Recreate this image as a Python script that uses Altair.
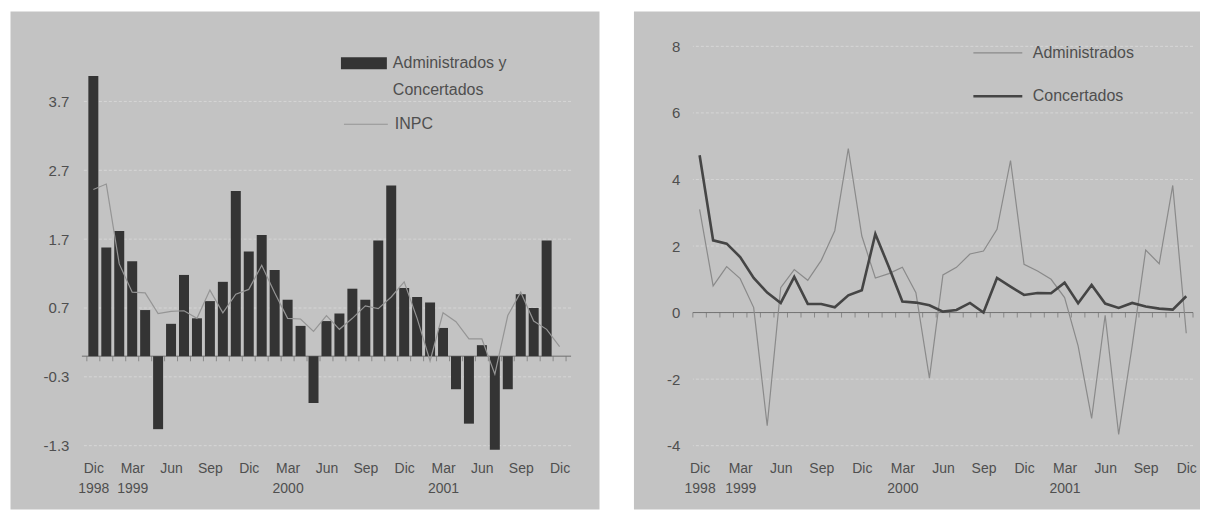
import json
import altair as alt
import pandas as pd

# ---------------- data ----------------
periodos = ["Dic 1998", "Ene 1999", "Feb 1999", "Mar 1999", "Abr 1999", "May 1999",
            "Jun 1999", "Jul 1999", "Ago 1999", "Sep 1999", "Oct 1999", "Nov 1999",
            "Dic 1999", "Ene 2000", "Feb 2000", "Mar 2000", "Abr 2000", "May 2000",
            "Jun 2000", "Jul 2000", "Ago 2000", "Sep 2000", "Oct 2000", "Nov 2000",
            "Dic 2000", "Ene 2001", "Feb 2001", "Mar 2001", "Abr 2001", "May 2001",
            "Jun 2001", "Jul 2001", "Ago 2001", "Sep 2001", "Oct 2001", "Nov 2001",
            "Dic 2001"]

adm_conc = [4.07, 1.58, 1.82, 1.38, 0.67, -1.06, 0.47, 1.18, 0.55, 0.80, 1.08, 2.40,
            1.52, 1.76, 1.25, 0.82, 0.44, -0.68, 0.51, 0.62, 0.98, 0.82, 1.68, 2.48,
            0.99, 0.86, 0.78, 0.41, -0.48, -0.98, 0.16, -1.36, -0.48, 0.90, 0.70, 1.68,
            None]

inpc = [2.42, 2.50, 1.34, 0.93, 0.92, 0.62, 0.65, 0.66, 0.55, 0.96, 0.63, 0.90,
        0.97, 1.32, 0.92, 0.55, 0.54, 0.36, 0.59, 0.39, 0.55, 0.73, 0.69, 0.86,
        1.08, 0.55, -0.07, 0.63, 0.50, 0.25, 0.25, -0.26, 0.59, 0.93, 0.51, 0.39,
        0.14]

administrados = [3.10, 0.80, 1.38, 1.02, 0.15, -3.40, 0.75, 1.29, 0.97, 1.57, 2.46, 4.93,
                 2.30, 1.04, 1.17, 1.36, 0.60, -1.97, 1.13, 1.36, 1.76, 1.85, 2.50, 4.57,
                 1.45, 1.25, 1.00, 0.45, -1.00, -3.18, -0.08, -3.66, -1.00, 1.88, 1.47, 3.82,
                 -0.62]

concertados = [4.73, 2.17, 2.07, 1.67, 1.04, 0.60, 0.29, 1.07, 0.26, 0.26, 0.16, 0.52,
               0.67, 2.36, 1.37, 0.33, 0.30, 0.22, 0.03, 0.08, 0.29, 0.00, 1.04, 0.78,
               0.53, 0.59, 0.58, 0.90, 0.28, 0.83, 0.27, 0.14, 0.29, 0.18, 0.12, 0.09,
               0.49]

tick_idx = [0, 3, 6, 9, 12, 15, 18, 21, 24, 27, 30, 33, 36]
tick_lbl = [["Dic", "1998"], ["Mar", "1999"], ["Jun"], ["Sep"], ["Dic"],
            ["Mar", "2000"], ["Jun"], ["Sep"], ["Dic"],
            ["Mar", "2001"], ["Jun"], ["Sep"], ["Dic"]]

y_izq = [-1.3, -0.3, 0.7, 1.7, 2.7, 3.7]
y_der = [-4, -2, 0, 2, 4, 6, 8]

serie_barras = "Administrados y Concertados"
leyenda_barras = ["Administrados y", "Concertados"]
serie_linea = "INPC"
series_der = ["Administrados", "Concertados"]

n = len(periodos)
assert all(len(s) == n for s in (adm_conc, inpc, administrados, concertados))

# ---------------- styles ----------------
FONT = "Liberation Sans"
BG = "#c3c3c3"
TXT = "#4f4f4f"
GRID = "#d6d6d6"
AXIS = "#707070"
H = 400
W1 = 490
W2 = 501
OFF2 = 610.5   # horizontal offset of the right plot from the left plot origin

one = pd.DataFrame({"k": [0]})
df_bar = pd.DataFrame({"i": list(range(n)), "periodo": periodos,
                       "valor": adm_conc, "serie_b": serie_barras})
df_inpc = pd.DataFrame({"i": list(range(n)), "periodo": periodos,
                        "valor": inpc, "serie_l": serie_linea})
df_ticks = pd.DataFrame({"i": [k - 0.5 for k in range(n + 1)], "valor": 0.0})
df_zero = pd.DataFrame({"valor": [0.0]})

rows = []
for s, vals in zip(series_der, [administrados, concertados]):
    for k, v in enumerate(vals):
        rows.append({"i": k, "periodo": periodos[k], "serie": s, "valor": v})
df_der = pd.DataFrame(rows)

label_expr_x = json.dumps(tick_lbl) + "[round(datum.value/3)]"

x_axis = alt.Axis(values=tick_idx, labelExpr=label_expr_x, title=None, domain=False,
                  ticks=False, tickSize=0, grid=False, labelPadding=16,
                  labelLineHeight=20, labelBaseline="top", labelAngle=0,
                  labelFontSize=14, labelColor=TXT, labelFont=FONT, labelFlush=False,
                  zindex=1)


def y_axis(vals):
    return alt.Axis(values=vals, labelExpr="'' + datum.value", title=None, domain=False,
                    ticks=False, tickSize=0, grid=False, labelPadding=13,
                    labelFontSize=15, labelColor=TXT, labelFont=FONT, zindex=1)


# ---------------- left panel ----------------
X1 = alt.X("i:Q", scale=alt.Scale(domain=[-0.5, 36.5], nice=False), axis=x_axis)
Y1 = alt.Y("valor:Q", scale=alt.Scale(domain=[-1.3, 4.5], nice=False), axis=y_axis(y_izq))

bg1 = alt.Chart(one).mark_rect(color=BG).encode(
    x=alt.value(-71.5), x2=alt.value(W1 + 28.5), y=alt.value(-35), y2=alt.value(H + 64))
grid1 = alt.Chart(pd.DataFrame({"valor": y_izq})).mark_rule(
    color=GRID, strokeWidth=1, strokeDash=[3, 2]).encode(y=Y1)
zero1 = alt.Chart(df_zero).mark_rule(color=AXIS, strokeWidth=1).encode(y=Y1)
ticks1 = alt.Chart(df_ticks).mark_tick(orient="vertical", size=5, thickness=1,
                                       color=AXIS, yOffset=2.5).encode(x=X1, y=Y1)
bars = alt.Chart(df_bar).mark_bar(size=10).encode(
    x=X1, y=Y1, y2=alt.datum(0),
    fill=alt.Fill("serie_b:N", scale=alt.Scale(range=["#343434"]),
                  legend=alt.Legend(title=None, orient="none", legendX=259.5, legendY=-6,
                                    symbolType="M-1,-0.26H1V0.26H-1Z", symbolSize=2116,
                                    symbolStrokeWidth=0, labelOffset=6, padding=0,
                                    labelExpr=json.dumps(leyenda_barras),
                                    labelFontSize=16, labelColor=TXT, labelFont=FONT,
                                    labelLimit=300)))
line_inpc = alt.Chart(df_inpc).mark_line(strokeWidth=1.2).encode(
    x=X1, y=Y1,
    stroke=alt.Stroke("serie_l:N", scale=alt.Scale(range=["#959595"]),
                      legend=alt.Legend(title=None, orient="none", legendX=261.5, legendY=55,
                                        symbolType="stroke", symbolSize=1936,
                                        symbolStrokeWidth=1.2, labelOffset=6, padding=0,
                                        labelFontSize=16, labelColor=TXT, labelFont=FONT)))

left = alt.layer(bg1, grid1, zero1, ticks1, bars, line_inpc).properties(width=W1, height=H)

# ---------------- right panel ----------------
X2 = alt.X("i:Q", scale=alt.Scale(domain=[-0.5, 36.5], nice=False), axis=x_axis)
Y2 = alt.Y("valor:Q", scale=alt.Scale(domain=[-4, 8], nice=False), axis=y_axis(y_der))

leg2 = alt.Legend(title=None, orient="none", legendX=281 + OFF2, legendY=-19,
                  symbolType="stroke", symbolSize=2401, rowPadding=9, labelOffset=9,
                  padding=0, labelFontSize=16, labelColor=TXT, labelFont=FONT)

bg2 = alt.Chart(one).mark_rect(color=BG).encode(
    x=alt.value(-59), x2=alt.value(W2 + 7), y=alt.value(-35), y2=alt.value(H + 64))
grid2 = alt.Chart(pd.DataFrame({"valor": y_der})).mark_rule(
    color=GRID, strokeWidth=1, strokeDash=[3, 2]).encode(y=Y2)
zero2 = alt.Chart(df_zero).mark_rule(color=AXIS, strokeWidth=1).encode(y=Y2)
ticks2 = alt.Chart(df_ticks).mark_tick(orient="vertical", size=5, thickness=1,
                                       color=AXIS, yOffset=2.5).encode(x=X2, y=Y2)
lines2 = alt.Chart(df_der).mark_line().encode(
    x=X2, y=Y2,
    color=alt.Color("serie:N", scale=alt.Scale(domain=series_der, range=["#8a8a8a", "#454545"]),
                    legend=leg2),
    strokeWidth=alt.StrokeWidth("serie:N", scale=alt.Scale(domain=series_der, range=[1.2, 2.6]),
                                legend=leg2),
)

right = alt.layer(bg2, grid2, zero2, ticks2, lines2).properties(width=W2, height=H)

chart = alt.hconcat(left, right, spacing=33).properties(
    padding={"left": 2, "top": 2, "right": 0, "bottom": 0},
    background="white",
).configure_view(strokeWidth=0).configure(
    font=FONT, style={"guide-label": {"lineHeight": 27}}
)

chart.save("out.html", embed_options={"renderer": "svg", "actions": False})
